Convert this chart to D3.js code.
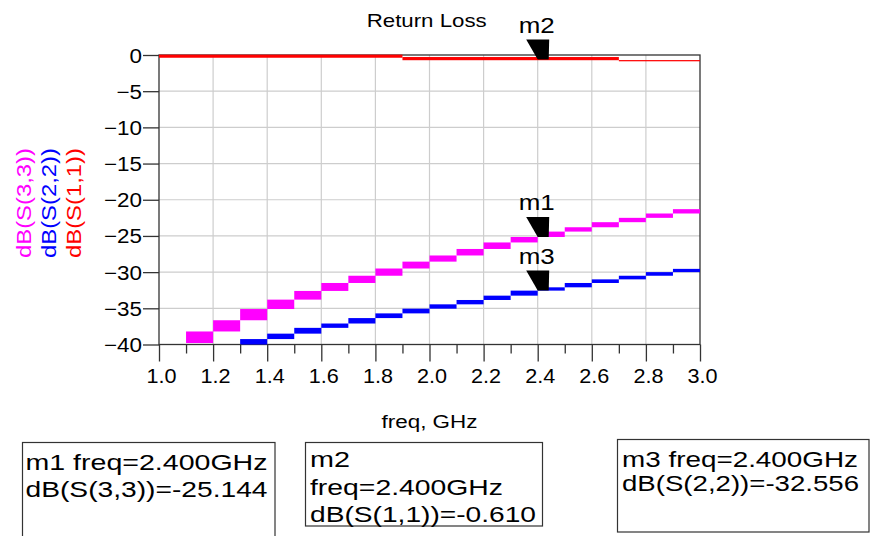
<!DOCTYPE html>
<html>
<head>
<meta charset="utf-8">
<script src="https://cdn.jsdelivr.net/npm/d3@7/dist/d3.min.js"></script>
<style>
  html, body { margin: 0; padding: 0; background: #fff; }
  svg { display: block; }
  text { font-family: "Liberation Sans", Arial, Helvetica, sans-serif; fill: #000; }
</style>
</head>
<body>
<svg id="chart" width="870" height="536"></svg>
<script>
// ---------------- data ----------------
const titleText = "Return Loss";
const xLabelText = "freq, GHz";
const xMajorTicks = [1.0, 1.2, 1.4, 1.6, 1.8, 2.0, 2.2, 2.4, 2.6, 2.8, 3.0];
const xMinorTicks = [1.1, 1.3, 1.5, 1.7, 1.9, 2.1, 2.3, 2.5, 2.7, 2.9];
const yTicks = [0, -5, -10, -15, -20, -25, -30, -35, -40];

// dB(S(3,3)) sampled values
const s33Freq = [1.1, 1.2, 1.3, 1.4, 1.5, 1.6, 1.7, 1.8, 1.9, 2.0, 2.1, 2.2, 2.3, 2.4, 2.5, 2.6, 2.7, 2.8, 2.9, 3.0];
const s33Val  = [-39.8, -38.2, -36.65, -35.1, -33.8, -32.6, -31.5, -30.5, -29.5, -28.55, -27.7, -26.8, -25.9, -25.144, -24.4, -23.8, -23.1, -22.5, -21.9, -21.3];
// dB(S(2,2)) sampled values
const s22Freq = [1.3, 1.4, 1.5, 1.6, 1.7, 1.8, 1.9, 2.0, 2.1, 2.2, 2.3, 2.4, 2.5, 2.6, 2.7, 2.8, 2.9, 3.0];
const s22Val  = [-40.1, -39.25, -38.5, -37.7, -37.1, -36.35, -35.7, -35.05, -34.45, -33.85, -33.25, -32.556, -32.1, -31.5, -31.0, -30.5, -30.0, -29.55];
// dB(S(1,1)) bands (start/end freq, upper/lower dB)
const s11Start = [1.0, 1.9, 2.7];
const s11End   = [1.9, 2.7, 3.0];
const s11Hi    = [0.05, -0.28, -0.70];
const s11Lo    = [-0.38, -0.72, -0.87];

const markerNames = ["m1", "m2", "m3"];
const markerFreq  = [2.4, 2.4, 2.4];
const markerVal   = [-25.144, -0.610, -32.556];

const yLabels = ["dB(S(3,3))", "dB(S(2,2))", "dB(S(1,1))"];
const seriesColors = ["#ff00ff", "#0000ff", "#ff0000"];

const box1Lines = ["m1 freq=2.400GHz", "dB(S(3,3))=-25.144"];
const box2Lines = ["m2", "freq=2.400GHz", "dB(S(1,1))=-0.610"];
const box3Lines = ["m3 freq=2.400GHz", "dB(S(2,2))=-32.556"];

// ---------------- drawing ----------------
const svg = d3.select("#chart");
svg.append("rect").attr("width", 870).attr("height", 536).attr("fill", "#fff");

const x = d3.scaleLinear().domain([1.0, 3.0]).range([159, 700]);
const y = d3.scaleLinear().domain([-40, 0]).range([344.5, 55]);

// clip (slightly larger than plot so traces cover the frame edge)
svg.append("clipPath").attr("id", "plotclip").append("rect")
  .attr("x", x(1.0)).attr("y", y(0) - 1).attr("width", x(3.0) - x(1.0)).attr("height", y(-40) - y(0) + 1);

// grid
const grid = svg.append("g");
grid.selectAll("line.v").data(xMajorTicks.slice(1, -1)).join("line")
  .attr("x1", d => x(d)).attr("x2", d => x(d)).attr("y1", y(0)).attr("y2", y(-40))
  .attr("stroke", "#cdcdcd").attr("stroke-width", 1.2);
grid.selectAll("line.h").data(yTicks.slice(1, -1)).join("line")
  .attr("y1", d => y(d)).attr("y2", d => y(d)).attr("x1", x(1.0)).attr("x2", x(3.0))
  .attr("stroke", "#cdcdcd").attr("stroke-width", 1.2);

// frame
svg.append("rect").attr("x", x(1.0)).attr("y", y(0))
  .attr("width", x(3.0) - x(1.0)).attr("height", y(-40) - y(0))
  .attr("fill", "none").attr("stroke", "#333").attr("stroke-width", 1.3);

// series
const plot = svg.append("g").attr("clip-path", "url(#plotclip)");
function stepBands(freq, val, color) {
  const segs = d3.range(freq.length - 1).map(i => ({
    f0: freq[i], f1: freq[i + 1], a: val[i], b: val[i + 1]
  }));
  plot.append("g").selectAll("rect").data(segs).join("rect")
    .attr("x", d => x(d.f0)).attr("width", d => x(d.f1) - x(d.f0))
    .attr("y", d => y(Math.max(d.a, d.b)))
    .attr("height", d => Math.abs(y(d.a) - y(d.b)))
    .attr("fill", color);
}
stepBands(s33Freq, s33Val, seriesColors[0]);
stepBands(s22Freq, s22Val, seriesColors[1]);
plot.append("g").selectAll("rect").data(s11Start.map((d, i) => i)).join("rect")
  .attr("x", i => x(s11Start[i])).attr("width", i => x(s11End[i]) - x(s11Start[i]))
  .attr("y", i => y(s11Hi[i])).attr("height", i => y(s11Lo[i]) - y(s11Hi[i]))
  .attr("fill", seriesColors[2]);

// axes
const yAxis = svg.append("g").attr("transform", `translate(${x(1.0)},0)`)
  .call(d3.axisLeft(y).tickValues(yTicks).tickSize(16).tickPadding(1).tickFormat(d3.format("d")));
const xAxisMajor = svg.append("g").attr("transform", `translate(0,${y(-40)})`)
  .call(d3.axisBottom(x).tickValues(xMajorTicks).tickSize(17).tickPadding(7).tickFormat(d3.format(".1f")));
const xAxisMinor = svg.append("g").attr("transform", `translate(0,${y(-40)})`)
  .call(d3.axisBottom(x).tickValues(xMinorTicks).tickSize(9).tickFormat(""));
[yAxis, xAxisMajor, xAxisMinor].forEach(g => {
  g.select(".domain").remove();
  g.selectAll(".tick line").attr("stroke", "#333").attr("stroke-width", 1.3);
  g.selectAll("text").attr("font-size", 20).attr("fill", "#000")
    .style("font-family", '"Liberation Sans", Arial, sans-serif');
});
yAxis.selectAll(".tick text").attr("dy", "0.35em");
xAxisMajor.selectAll(".tick text").attr("x", 2);

function stretch(sel, f) {
  sel.each(function () {
    const w = this.getComputedTextLength();
    d3.select(this).attr("textLength", w * f).attr("lengthAdjust", "spacingAndGlyphs");
  });
}
stretch(yAxis.selectAll(".tick text"), 1.12);
stretch(xAxisMajor.selectAll(".tick text"), 1.08);

// title
svg.append("text").attr("x", 426.7).attr("y", 27.3).attr("text-anchor", "middle")
  .attr("font-size", 18.5).attr("textLength", 120).attr("lengthAdjust", "spacingAndGlyphs")
  .text(titleText);

// x label
svg.append("text").attr("x", (x(1.0) + x(3.0)) / 2).attr("y", 428).attr("text-anchor", "middle")
  .attr("font-size", 18).attr("textLength", 96).attr("lengthAdjust", "spacingAndGlyphs")
  .text(xLabelText);

// y labels (rotated)
const yLabX = [31, 56, 81];
yLabels.forEach((t, i) => {
  svg.append("text")
    .attr("transform", `translate(${yLabX[i]},203) rotate(-90)`)
    .attr("text-anchor", "middle").attr("font-size", 21)
    .attr("textLength", 110).attr("lengthAdjust", "spacingAndGlyphs")
    .style("fill", seriesColors[i])
    .text(t);
});

// markers
markerNames.forEach((name, i) => {
  const mx = x(markerFreq[i]), my = y(markerVal[i]);
  svg.append("polygon")
    .attr("points", [[mx - 11.5, my - 20], [mx + 11.5, my - 20], [mx + 11, my], [mx, my]].map(p => p.join(",")).join(" "))
    .attr("fill", "#000");
  svg.append("text").attr("x", mx - 19).attr("y", my - 26.5)
    .attr("font-size", 22).attr("textLength", 36).attr("lengthAdjust", "spacingAndGlyphs")
    .text(name);
});

// marker readout boxes
function box(x0, y0, x1, y1, lines, tx, baselines, widths) {
  svg.append("rect").attr("x", x0).attr("y", y0).attr("width", x1 - x0).attr("height", y1 - y0)
    .attr("fill", "#fff").attr("stroke", "#333").attr("stroke-width", 1.2);
  lines.forEach((t, i) => {
    svg.append("text").attr("x", tx).attr("y", baselines[i]).attr("font-size", 22)
      .attr("textLength", widths[i]).attr("lengthAdjust", "spacingAndGlyphs").text(t);
  });
}
box(22.5, 442.5, 275, 560, box1Lines, 25.5, [470, 496.5], [242, 242]);
box(305.5, 442.5, 542.5, 526, box2Lines, 310, [467, 494.5, 522], [40, 193, 226]);
box(617.5, 439.5, 869, 532, box3Lines, 622, [466.5, 491], [236, 237]);
</script>
</body>
</html>
